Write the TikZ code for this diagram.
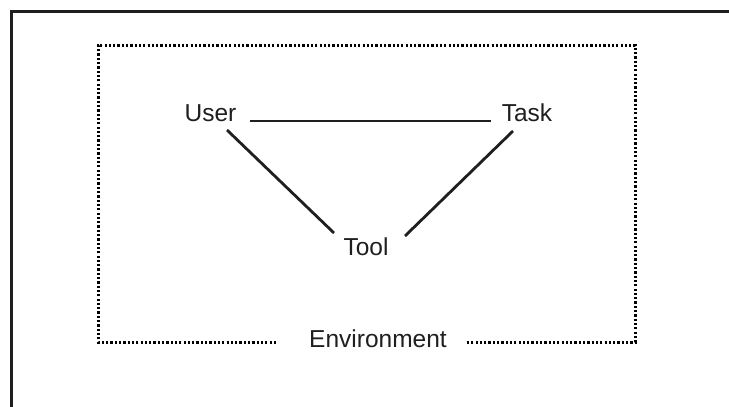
\documentclass[tikz,border=0pt]{standalone}
\usepackage{fontspec}
\setmainfont{Liberation Sans}
\begin{document}
\begin{tikzpicture}[x=1pt,y=-1pt,
  label/.style={anchor=base,inner sep=0pt,text=black!88,font=\fontsize{24.5}{28}\selectfont},
  link/.style={line width=2.8pt,draw=black!88},
  frame/.style={line width=3pt,draw=black!88},
  envbox/.style={line width=3pt,draw=black,dash pattern=on 2.2pt off 2.1pt}]
\useasboundingbox (0,0) rectangle (729,407);
\fill[white] (0,0) rectangle (729,407);
% outer frame: only the left and top edges show
\draw[frame] (11,407) -- (11,11) -- (729,11);
% labels
\node[label] (user) at (210.5,121) {User};
\node[label] (task) at (527,121) {Task};
\node[label] (tool) at (366,255) {Tool};
\node[label] (env)  at (378,347) {Environment};
% environment boundary, open around its label
\coordinate (envL) at (98,342);
\coordinate (envR) at (635,342);
\draw[envbox] ([xshift=-33pt]env.base west |- envL) -- (envL) -- (98,45) -- (635,45) -- (envR) -- ([xshift=19pt]env.base east |- envR);
% relations
\draw[link] ([xshift=13pt]user.base east) -- ([xshift=-11pt]task.base west);
\draw[link] ([shift={(16.5pt,-9pt)}]user.base) -- ([shift={(-32pt,22pt)}]tool.base);
\draw[link] ([shift={(-14pt,-10pt)}]task.base) -- ([shift={(39pt,19pt)}]tool.base);
\end{tikzpicture}
\end{document}
